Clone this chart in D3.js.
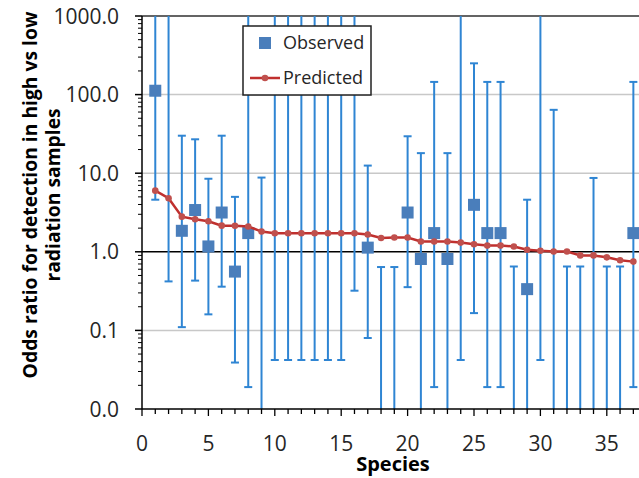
<!DOCTYPE html>
<html>
<head>
<meta charset="utf-8">
<script src="https://cdn.jsdelivr.net/npm/d3@7"></script>
<style>
  body { margin: 0; background: #fff; }
  text { font-family: "Open Sans", sans-serif; }
</style>
</head>
<body>
<div id="chart"></div>
<script>
// species numbers
var species = [1,2,3,4,5,6,7,8,9,10,11,12,13,14,15,16,17,18,19,20,
  21,22,23,24,25,26,27,28,29,30,31,32,33,34,35,36,37];

// observed odds ratio (null = not shown)
var observed = [112, null, 1.85, 3.4, 1.17, 3.16, 0.56, 1.73, null, null,
  null, null, null, null, null, null, 1.13, null, null, 3.16,
  0.81, 1.73, 0.81, null, 3.96, 1.73, 1.73, null, 0.335, null,
  null, null, null, null, null, null, 1.73];

// predicted odds ratio
var predicted = [6.0, 4.8, 2.8, 2.6, 2.45, 2.15, 2.14, 2.1, 1.81, 1.72,
  1.72, 1.72, 1.72, 1.72, 1.72, 1.72, 1.66, 1.5, 1.52, 1.52,
  1.35, 1.35, 1.35, 1.31, 1.25, 1.2, 1.2, 1.17, 1.06, 1.03,
  1.01, 1.01, 0.9, 0.9, 0.85, 0.78, 0.75];

// error bar limits (1e4 / 1e-3 = beyond the axis)
var lower = [4.6, 0.42, 0.11, 0.43, 0.16, 0.36, 0.039, 0.019, 1e-3, 0.042,
  0.042, 0.042, 0.042, 0.042, 0.042, 0.32, 0.08, 1e-3, 1e-3, 0.355,
  1e-3, 0.019, 1e-3, 0.042, 0.166, 0.019, 0.019, 1e-3, 1e-3, 0.042,
  1e-3, 1e-3, 1e-3, 1e-3, 1e-3, 1e-3, 0.019];
var upper = [1e4, 1e4, 30, 27, 8.5, 30, 5.0, 1e4, 8.8, 1e4,
  1e4, 1e4, 1e4, 1e4, 1e4, 1e4, 12.5, 0.64, 0.64, 29.5,
  18, 145, 18, 1e4, 250, 145, 145, 0.65, 4.6, 1e4,
  64, 0.65, 0.65, 8.7, 0.65, 0.65, 145];

var yTicks = [0.01, 0.1, 1, 10, 100, 1000];
var xTicks = [0, 5, 10, 15, 20, 25, 30, 35];

var width = 639, height = 478;
var plotLeft = 142, plotTop = 16, plotBottom = 409, unit = 13.28;

var blue = "#2f85d3", square = "#4a7ebb", red = "#c0504d", lineRed = "#c0302e";

var x = d3.scaleLinear().domain([0, 40]).range([plotLeft, plotLeft + 40 * unit]);
var y = d3.scaleLog().domain([0.01, 1000]).range([plotBottom, plotTop]);

var svg = d3.select("#chart").append("svg")
    .attr("width", width)
    .attr("height", height);

svg.append("defs").append("clipPath").attr("id", "plot")
  .append("rect")
    .attr("x", plotLeft).attr("y", plotTop)
    .attr("width", width - plotLeft).attr("height", plotBottom - plotTop);

// gridlines
svg.selectAll(".grid")
    .data([0.1, 10, 100])
    .enter().append("line")
    .attr("x1", plotLeft).attr("x2", width)
    .attr("y1", function(d) { return y(d); })
    .attr("y2", function(d) { return y(d); })
    .style("stroke", "#c8c8c8")
    .style("stroke-width", 1.5);

// top border and line at 1.0
svg.append("line")
    .attr("x1", plotLeft).attr("x2", width)
    .attr("y1", y(1000)).attr("y2", y(1000))
    .style("stroke", "#303030").style("stroke-width", 1.5);
svg.append("line")
    .attr("x1", plotLeft).attr("x2", width)
    .attr("y1", y(1)).attr("y2", y(1))
    .style("stroke", "#000").style("stroke-width", 1.5);

// error bars
var rows = species.map(function(s, i) {
  return {s: s, obs: observed[i], pred: predicted[i], lo: lower[i], hi: upper[i]};
});

var bars = svg.append("g").attr("clip-path", "url(#plot)");
bars.selectAll(".err")
    .data(rows)
    .enter().append("line")
    .attr("x1", function(d) { return x(d.s); })
    .attr("x2", function(d) { return x(d.s); })
    .attr("y1", function(d) { return y(d.lo); })
    .attr("y2", function(d) { return y(d.hi); })
    .style("stroke", blue).style("stroke-width", 2);

var caps = [];
rows.forEach(function(d) {
  if (d.lo >= 0.01) caps.push({s: d.s, v: d.lo});
  if (d.hi <= 1000) caps.push({s: d.s, v: d.hi});
});
bars.selectAll(".cap")
    .data(caps)
    .enter().append("line")
    .attr("x1", function(d) { return x(d.s) - 4; })
    .attr("x2", function(d) { return x(d.s) + 4; })
    .attr("y1", function(d) { return y(d.v); })
    .attr("y2", function(d) { return y(d.v); })
    .style("stroke", blue).style("stroke-width", 2);

// observed squares
svg.selectAll(".obs")
    .data(rows.filter(function(d) { return d.obs != null; }))
    .enter().append("rect")
    .attr("x", function(d) { return x(d.s) - 6; })
    .attr("y", function(d) { return y(d.obs) - 6; })
    .attr("width", 12).attr("height", 12)
    .style("fill", square);

// predicted line
var line = d3.line()
    .x(function(d) { return x(d.s); })
    .y(function(d) { return y(d.pred); });
svg.append("path")
    .datum(rows)
    .attr("d", line)
    .style("fill", "none")
    .style("stroke", lineRed)
    .style("stroke-width", 2.5);
svg.selectAll(".pred")
    .data(rows)
    .enter().append("circle")
    .attr("cx", function(d) { return x(d.s); })
    .attr("cy", function(d) { return y(d.pred); })
    .attr("r", 3.3)
    .style("fill", red);

// axes
var yAxis = svg.append("g");
yAxis.append("line")
    .attr("x1", plotLeft).attr("x2", plotLeft)
    .attr("y1", plotTop).attr("y2", plotBottom)
    .style("stroke", "#000").style("stroke-width", 1.5);

var minor = [];
for (var e = -2; e < 3; e++) {
  for (var m = 2; m < 10; m++) minor.push(m * Math.pow(10, e));
}
yAxis.selectAll(".ymin")
    .data(minor)
    .enter().append("line")
    .attr("x1", plotLeft - 4).attr("x2", plotLeft)
    .attr("y1", function(d) { return y(d); })
    .attr("y2", function(d) { return y(d); })
    .style("stroke", "#000").style("stroke-width", 1);
yAxis.selectAll(".ymaj")
    .data(yTicks)
    .enter().append("line")
    .attr("x1", plotLeft - 7).attr("x2", plotLeft)
    .attr("y1", function(d) { return y(d); })
    .attr("y2", function(d) { return y(d); })
    .style("stroke", "#000").style("stroke-width", 1.5);
yAxis.selectAll(".ylab")
    .data(yTicks)
    .enter().append("text")
    .attr("x", 119)
    .attr("y", function(d) { return y(d); })
    .attr("dy", "0.36em")
    .attr("text-anchor", "end")
    .style("font-size", "21px")
    .style("fill", "#262626")
    .text(d3.format(".1f"));

var xAxis = svg.append("g");
xAxis.append("line")
    .attr("x1", plotLeft).attr("x2", width)
    .attr("y1", plotBottom).attr("y2", plotBottom)
    .style("stroke", "#000").style("stroke-width", 1.5);
xAxis.selectAll(".xtick")
    .data(d3.range(0, 41))
    .enter().append("line")
    .attr("x1", function(d) { return x(d); })
    .attr("x2", function(d) { return x(d); })
    .attr("y1", plotBottom)
    .attr("y2", function(d) { return d % 5 == 0 ? plotBottom + 7 : plotBottom + 5; })
    .style("stroke", "#000").style("stroke-width", 1.3);
xAxis.selectAll(".xlab")
    .data(xTicks)
    .enter().append("text")
    .attr("x", function(d) { return x(d); })
    .attr("y", 443)
    .attr("dy", "0.36em")
    .attr("text-anchor", "middle")
    .style("font-size", "21px")
    .style("fill", "#262626")
    .text(function(d) { return d; });

// axis titles
svg.append("text")
    .attr("x", 393).attr("y", 464)
    .attr("dy", "0.36em")
    .attr("text-anchor", "middle")
    .style("font-size", "20px")
    .style("font-weight", "bold")
    .text("Species");

var yTitle = svg.append("text")
    .attr("transform", "translate(0,195) rotate(-90)")
    .attr("text-anchor", "middle")
    .style("font-size", "19.3px")
    .style("font-weight", "bold");
yTitle.append("tspan").attr("x", 0).attr("y", 30).attr("dy", "0.36em")
    .text("Odds ratio for detection in high vs low");
yTitle.append("tspan").attr("x", 0).attr("y", 53).attr("dy", "0.36em")
    .text("radiation samples");

// legend
var legend = svg.append("g");
legend.append("rect")
    .attr("x", 243).attr("y", 26)
    .attr("width", 128).attr("height", 69)
    .style("fill", "#fff")
    .style("stroke", "#202020")
    .style("stroke-width", 1.5);
legend.append("rect")
    .attr("x", 265 - 6).attr("y", 43 - 6)
    .attr("width", 12).attr("height", 12)
    .style("fill", square);
legend.append("line")
    .attr("x1", 250).attr("x2", 280)
    .attr("y1", 78).attr("y2", 78)
    .style("stroke", lineRed).style("stroke-width", 2.5);
legend.append("circle")
    .attr("cx", 265).attr("cy", 78).attr("r", 3.3)
    .style("fill", red);
legend.append("text")
    .attr("x", 283).attr("y", 43).attr("dy", "0.36em")
    .style("font-size", "18px").style("fill", "#262626")
    .text("Observed");
legend.append("text")
    .attr("x", 283).attr("y", 78).attr("dy", "0.36em")
    .style("font-size", "18px").style("fill", "#262626")
    .text("Predicted");
</script>
</body>
</html>
